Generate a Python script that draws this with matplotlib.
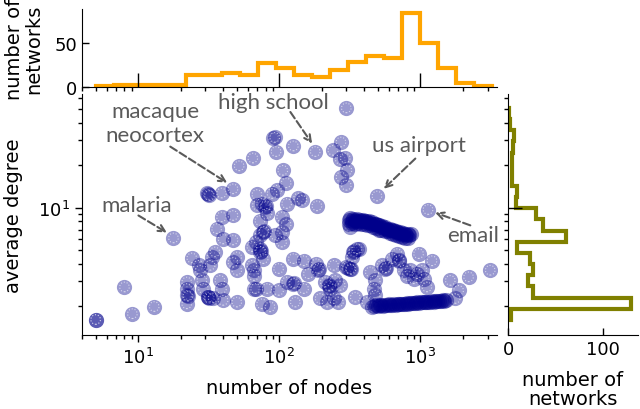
import numpy as np
import matplotlib
matplotlib.use('Agg')
import matplotlib.pyplot as plt
from matplotlib.ticker import NullFormatter

# networks: number of nodes / average degree
nodes = [5.0, 5.0, 8.0, 9.1, 13, 17.8,
         24, 26.8, 27.6, 22.1, 22.1, 22.1, 22.1, 22.5,
         28.3, 29, 31.5, 31.5, 32, 34,
         38, 39, 40, 33.3, 35, 32.4,
         36, 39, 47, 40, 47, 50, 50, 47, 50,
         30.7, 31.5, 32, 39, 47, 52, 65, 69.5, 70,
         66, 66, 73, 73,
         299, 91, 93, 95, 126, 180, 240, 274, 271, 294, 302, 274, 299,
         106, 112, 96, 89, 75, 79, 80, 82, 73, 113, 137, 145, 185,
         104, 112, 104, 77, 78, 94, 104, 68, 73, 74, 77, 64, 99, 126, 149, 183, 187, 190, 243, 299, 305, 336, 340, 365, 327,
         64, 66, 68, 75, 86, 82, 99, 113, 126, 128, 130, 149, 161, 195, 218, 230, 224, 226, 243, 263, 271, 346, 212, 250,
         493, 1135,
         442, 480, 467, 480, 535, 565, 570, 684, 702, 710, 761, 805, 896, 973, 1028, 1065, 1114, 1210, 1633, 1870, 1771, 2200, 3133,
         631, 849, 946, 418, 454, 355, 319, 322, 319]
degree = [1.61, 1.61, 2.74, 1.77, 1.99, 6.1,
          4.4, 3.9, 3.6, 2.97, 2.67, 2.39, 2.08, 2.36,
          3.05, 2.67, 2.32, 2.32, 2.28, 2.29,
          3.05, 2.67, 2.2, 4.47, 4.85, 3.9,
          7.1, 8.6, 8.8, 6.0, 5.9, 4.47, 3.6, 4.1, 2.14,
          12.7, 12.4, 12.2, 12.7, 13.6, 19.8, 22.5, 12.4, 10.4,
          3.6, 2.67, 6.4, 5.1,
          51, 31.2, 31.5, 25, 27.4, 25, 25.5, 29.2, 22, 22.5, 18.4, 16.5, 14.4,
          18.4, 15, 13.3, 12.6, 10.7, 10.1, 10.3, 9.1, 8.1, 10.7, 11.7, 11.3, 10.3,
          8.6, 7.6, 6.7, 6.7, 6.8, 6.4, 5.7, 5.7, 4.85, 4.9, 4.35, 5.3, 3.7, 4.35, 4.2, 4.0, 3.6, 3.7, 3.9, 3.8, 3.75, 4.85, 4.9, 5.1, 4.47,
          3.9, 3.3, 2.67, 2.08, 1.98, 2.67, 2.59, 2.97, 2.89, 2.92, 2.14, 2.67, 3.4, 2.27, 2.14, 2.67, 2.81, 2.78, 2.27, 2.14, 2.81, 2.32, 2.97, 3.05,
          12.1, 9.7,
          3.5, 3.05, 2.67, 2.39, 3.9, 3.7, 3.75, 4.72, 4.2, 4.25, 3.6, 3.3, 3.13, 4.72, 3.6, 3.13, 2.74, 4.2, 3.05, 2.59, 2.27, 3.23, 3.6,
          4.35, 3.6, 3.4, 2.14, 1.98, 5.1, 3.7, 3.65, 7.3]

# two dense families of networks
blob1_nodes = [310, 318, 326, 334, 342, 350, 358, 366, 375, 384, 393, 402, 412, 422, 432, 443, 454, 465, 476, 488,
               500, 512, 525, 538, 551, 565, 579, 593, 608, 623, 638, 654, 670, 687, 704, 721, 739, 757, 776, 795,
               815, 835, 855,
               314, 330, 346, 362, 380, 398, 417, 437, 459, 482, 506, 531, 558, 586, 615, 646, 678, 712, 748, 785, 825]
blob1_degree = [8.2, 8.4, 8.1, 8.3, 8.2, 8.0, 8.3, 8.1, 8.2, 8.0, 8.2, 8.0, 8.1, 7.9, 8.0, 7.8, 7.9, 7.7, 7.6, 7.7,
                7.5, 7.5, 7.3, 7.4, 7.2, 7.3, 7.1, 7.0, 7.1, 6.9, 6.9, 6.8, 6.8, 6.7, 6.6, 6.7, 6.5, 6.6, 6.5, 6.4,
                6.5, 6.4, 6.5,
                7.7, 7.8, 7.6, 7.8, 7.6, 7.7, 7.5, 7.5, 7.3, 7.2, 7.0, 7.0, 6.8, 6.8, 6.6, 6.5, 6.4, 6.3, 6.2, 6.1, 6.1]
blob2_nodes = [470, 485, 500, 515, 530, 546, 562, 579, 596, 614, 632, 651, 670, 690, 711, 732, 754, 776, 799, 823,
               848, 873, 899, 926, 954, 982, 1011, 1041, 1072, 1104, 1137, 1171, 1206, 1242, 1279, 1317, 1356, 1396,
               1438, 1481, 1525]
blob2_degree = [2.02, 2.04, 2.01, 2.05, 2.03, 2.02, 2.05, 2.03, 2.06, 2.04, 2.05, 2.07, 2.05, 2.08, 2.06, 2.07, 2.09,
                2.08, 2.1, 2.09, 2.11, 2.1, 2.12, 2.11, 2.13, 2.12, 2.14, 2.13, 2.15, 2.14, 2.16, 2.15, 2.17, 2.16,
                2.18, 2.17, 2.19, 2.18, 2.2, 2.19, 2.2]

# marginal histograms (counts)
node_min, node_max = 5, 3200
node_counts = [1, 2, 2, 2, 2, 13, 14, 16, 13, 27, 21, 14, 11, 19, 28, 35, 33, 84, 50, 21, 4, 1]
deg_min, deg_max = 1.6, 51
deg_counts = [3, 130, 26, 21, 26, 23, 10, 61, 37, 30, 8, 10, 4, 4, 4, 5, 6, 2, 1]

# annotations: label, text position, arrow tail, arrow head
labels = ['macaque\nneocortex', 'malaria', 'high school', 'us airport', 'email']
label_xy = [(13.2, 40), (9.8, 10.4), (91, 56.5), (984, 27.7), (2377, 6.44)]
tails = [(16.9, 27.1), (10.05, 8.8), (120, 47.7), (923, 22.3), (2264, 7.49)]
heads = [(42.8, 15.0), (16.0, 6.65), (171, 28.5), (550, 13.6), (1276, 9.22)]

fig = plt.figure(figsize=(6.4, 4.1), dpi=100)
ax = fig.add_axes([82/640, 74/410, 415/640, 241/410])
ax_top = fig.add_axes([82/640, 322/410, 415/640, 78/410])
ax_right = fig.add_axes([508/640, 74/410, 130/640, 241/410])

for x, y in zip(nodes, degree):
    ax.scatter(x, y, s=120, color='darkblue', alpha=0.4, lw=0)
    ax.scatter(x, y, s=48, facecolor='none', edgecolor='white', lw=0.8,
               linestyle=':', alpha=0.6)
ax.scatter(blob1_nodes, blob1_degree, s=120, color='darkblue', alpha=0.45, lw=0)
ax.scatter(blob2_nodes, blob2_degree, s=120, color='darkblue', alpha=0.45, lw=0)

ax.set_xscale('log')
ax.set_yscale('log')
ax.set_xlim(4, 3500)
ax.set_ylim(1.25, 64)
ax.yaxis.set_minor_formatter(NullFormatter())
ax.xaxis.set_minor_formatter(NullFormatter())
ax.tick_params(which='major', length=5, width=1, labelsize=13)
ax.tick_params(which='minor', length=3, width=1)
ax.set_xlabel('number of nodes', fontsize=14, labelpad=8)
ax.set_ylabel('average degree', fontsize=14)
ax.yaxis.set_label_coords(-0.143, 0.5)

gray = '#5a5a5a'
for lab, xy, t, h in zip(labels, label_xy, tails, heads):
    ax.text(xy[0], xy[1], lab, ha='center', va='center', fontsize=16,
            family='Lato', color=gray, linespacing=1.25)
    ax.annotate('', xy=h, xytext=t,
                arrowprops=dict(arrowstyle='->', color=gray, lw=1.5,
                                linestyle='--', mutation_scale=12,
                                shrinkA=0, shrinkB=0))

# top histogram
node_edges = np.logspace(np.log10(node_min), np.log10(node_max), len(node_counts) + 1)
ax_top.stairs(node_counts, node_edges, color='orange', lw=3)
ax_top.set_xscale('log')
ax_top.set_xlim(4, 3500)
ax_top.set_ylim(0, 88)
ax_top.set_yticks([0, 50])
ax_top.xaxis.set_minor_formatter(NullFormatter())
ax_top.tick_params(axis='x', which='major', direction='in', length=10, width=1, labelbottom=False)
ax_top.tick_params(axis='x', which='minor', direction='out', length=3, width=1)
ax_top.tick_params(axis='y', direction='in', length=5, width=1, labelsize=13)
ax_top.set_ylabel('number of\nnetworks', fontsize=14, linespacing=1.0)
ax_top.yaxis.set_label_coords(-0.094, 0.5)

# right histogram
deg_edges = np.logspace(np.log10(deg_min), np.log10(deg_max), len(deg_counts) + 1)
ax_right.stairs(deg_counts, deg_edges, orientation='horizontal', color='olive', lw=3)
ax_right.set_yscale('log')
ax_right.set_ylim(1.25, 64)
ax_right.set_xlim(0, 137)
ax_right.set_xticks([0, 100])
ax_right.yaxis.set_minor_formatter(NullFormatter())
ax_right.tick_params(axis='y', which='major', direction='in', length=10, width=1, labelleft=False)
ax_right.tick_params(axis='y', which='minor', direction='out', length=3, width=1)
ax_right.tick_params(axis='x', direction='in', length=5, width=1, labelsize=13)
ax_right.set_xlabel('number of\nnetworks', fontsize=14, linespacing=1.0, labelpad=9)

for a in (ax, ax_top, ax_right):
    a.spines['top'].set_visible(False)
    a.spines['right'].set_visible(False)

fig.savefig('out.png', dpi=100)
